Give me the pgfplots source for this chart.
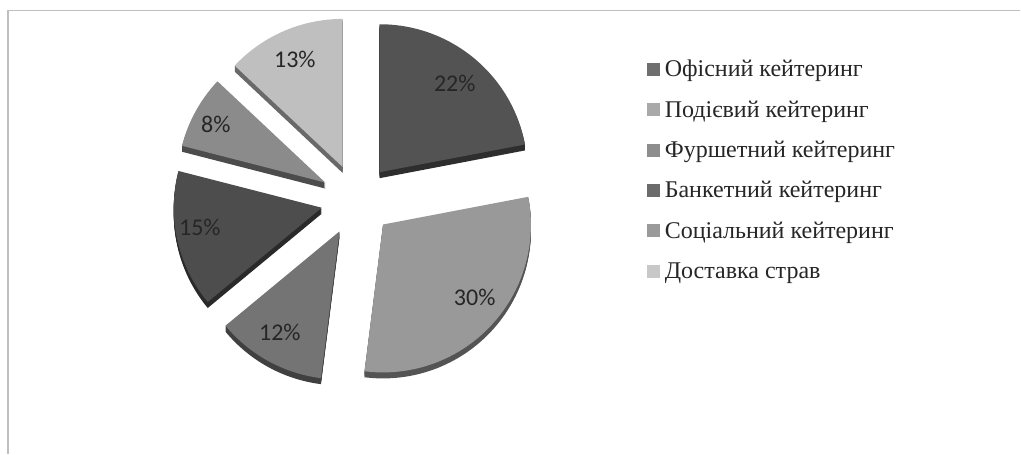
\documentclass[border=0pt]{standalone}
\usepackage{pgfplots}
\pgfplotsset{compat=1.18}
\usepackage{fontspec}
\setmainfont{Liberation Serif}
\newfontfamily\calibri{Carlito}

\definecolor{s1}{HTML}{535353}
\definecolor{s2}{HTML}{999999}
\definecolor{s3}{HTML}{747474}
\definecolor{s4}{HTML}{4D4D4D}
\definecolor{s5}{HTML}{8B8B8B}
\definecolor{s6}{HTML}{BFBFBF}
\definecolor{l1}{HTML}{6F6F6F}
\definecolor{l2}{HTML}{A9A9A9}
\definecolor{l3}{HTML}{8D8D8D}
\definecolor{l4}{HTML}{6B6B6B}
\definecolor{l5}{HTML}{9A9A9A}
\definecolor{l6}{HTML}{C8C8C8}
\definecolor{frame}{HTML}{BFBFBF}
\definecolor{lbl}{HTML}{262626}

\begin{document}
\begin{tikzpicture}
\begin{axis}[
  width=1021pt, height=454pt, scale only axis,
  xmin=0, xmax=1021, ymin=0, ymax=454, y dir=reverse,
  hide axis, clip=false]
\path (axis cs:0,0) rectangle (axis cs:1021,454);
\draw[frame, line width=1.2pt] (axis cs:8,454) -- (axis cs:8,10.5) -- (axis cs:1021,10.5);
% pie: percentage / face colour / label x / label y
\gdef\cum{0}
\foreach \pc/\fc/\lx/\ly in {22/s1/455/83, 30/s2/475/298, 12/s3/280/333, 15/s4/200/228, 8/s5/216/124, 13/s6/295/59} {
  \pgfmathsetmacro\ta{\cum*3.6}
  \pgfmathsetmacro\tb{(\cum+\pc)*3.6}
  \pgfmathsetmacro\pa{90-\ta}
  \pgfmathsetmacro\pb{90-\tb}
  \pgfmathsetmacro\pmid{90-(\ta+\tb)/2}
  \pgfmathsetmacro\newcum{\cum+\pc}
  \xdef\cum{\newcum}
  \foreach \k in {6,5,4,3,2,1} {
    \edef\temp{\noexpand\fill[\fc!55!black, shift={(\pmid:36pt)}, yshift=-\k pt] (axis cs:357,200) -- ++(\pa:148pt) arc[start angle=\pa, end angle=\pb, radius=148pt] -- cycle;}
    \temp
  }
  \edef\temp{\noexpand\fill[\fc, shift={(\pmid:36pt)}] (axis cs:357,200) -- ++(\pa:148pt) arc[start angle=\pa, end angle=\pb, radius=148pt] -- cycle;}
  \temp
  \edef\temp{\noexpand\node[font=\noexpand\calibri\noexpand\fontsize{24}{26}\noexpand\selectfont, text=lbl] at (axis cs:\lx,\ly) {\pc\noexpand\%};}
  \temp
}
% legend
\foreach \lc/\name/\by in {l1/Офісний кейтеринг/77, l2/Подієвий кейтеринг/117.5, l3/Фуршетний кейтеринг/158, l4/Банкетний кейтеринг/198, l5/Соціальний кейтеринг/238.5, l6/Доставка страв/279} {
  \edef\temp{\noexpand\fill[\lc] (axis cs:647,\by-14) rectangle (axis cs:660,\by-1);
    \noexpand\node[anchor=base west, inner sep=0pt, font=\noexpand\fontsize{24}{26}\noexpand\selectfont, text=lbl] at (axis cs:665,\by) {\name};}
  \temp
}
\end{axis}
\end{tikzpicture}
\end{document}
